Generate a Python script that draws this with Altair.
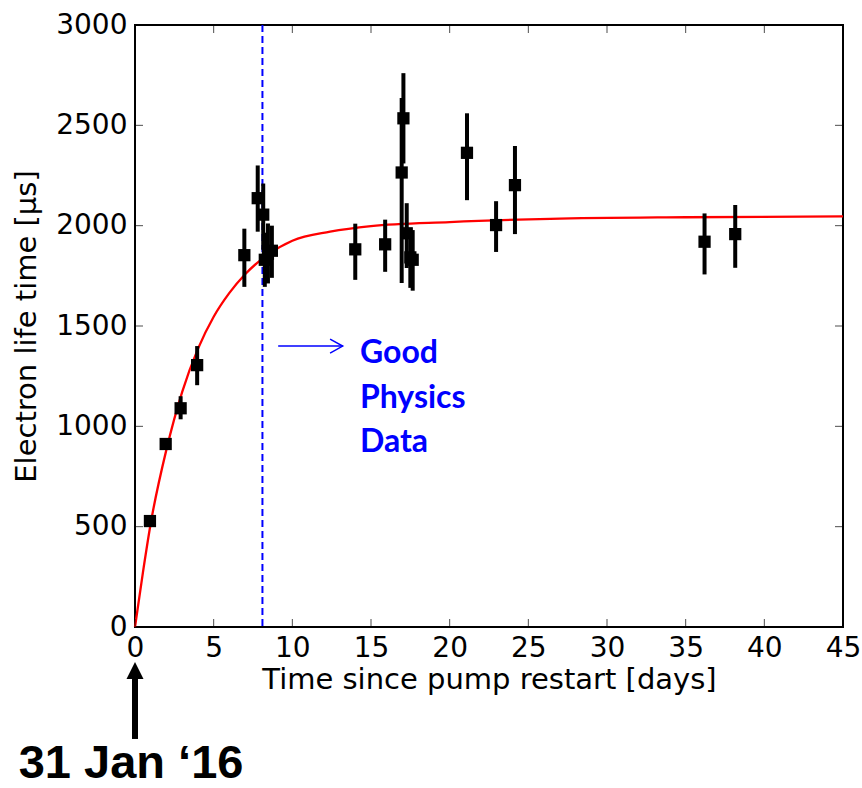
import altair as alt
import pandas as pd

# ---- data ----
days = [0.95, 1.95, 2.9, 3.95, 6.95, 7.8, 8.15, 8.25, 8.45, 8.7, 14.0, 15.9,
        16.95, 17.06, 17.27, 17.5, 17.65, 21.1, 22.95, 24.15, 36.2, 38.15]
lifetime = [528, 912, 1090, 1305, 1853, 2137, 2055, 1830, 1860, 1875, 1882, 1907,
            2265, 2535, 1962, 1842, 1830, 2363, 2003, 2202, 1920, 1958]
err_lo = [508, 885, 1035, 1205, 1695, 1970, 1880, 1695, 1712, 1740, 1730, 1770,
          1714, 2310, 1789, 1690, 1676, 2127, 1869, 1958, 1757, 1790]
err_hi = [548, 940, 1150, 1400, 1985, 2300, 2210, 1965, 2011, 2000, 2010, 2030,
          2636, 2760, 2112, 1988, 1978, 2560, 2122, 2397, 2061, 2103]

fit_days = [0, 0.5, 1, 2, 3, 4, 5, 6, 7, 8, 10, 12.4, 15, 20, 26.4, 35, 45]
fit_life = [0, 270, 517, 885, 1172, 1386, 1546, 1665, 1758, 1830, 1925, 1970,
            1998, 2018, 2034, 2042, 2046]

x_ticks = [0, 5, 10, 15, 20, 25, 30, 35, 40, 45]
y_ticks = [0, 500, 1000, 1500, 2000, 2500, 3000]

good_data_day = 8.1

pts = pd.DataFrame({"t": days, "y": lifetime, "lo": err_lo, "hi": err_hi})
fit = pd.DataFrame({"t": fit_days, "y": fit_life})
xt = pd.DataFrame({"t": x_ticks})
yt = pd.DataFrame({"y": y_ticks})

W, H = 708, 602
xs = alt.Scale(domain=[0, 45], nice=False, zero=False, clamp=False)
ys = alt.Scale(domain=[0, 3000], nice=False, zero=False, clamp=False)

X = alt.X("t:Q", scale=xs, title="Time since pump restart [days]",
          axis=alt.Axis(values=x_ticks, format="d", labelFlush=False))
Y = alt.Y("y:Q", scale=ys, title="Electron life time [μs]",
          axis=alt.Axis(values=y_ticks, format="d", labelFlush=False))

base_axes = alt.Chart(fit).mark_line(color="red", strokeWidth=2.3, interpolate="monotone").encode(x=X, y=Y)

err = alt.Chart(pts).mark_rule(color="black", strokeWidth=4).encode(
    x=alt.X("t:Q", scale=xs), y=alt.Y("lo:Q", scale=ys), y2="hi:Q")
sq = alt.Chart(pts).mark_square(color="black", filled=True, size=150, opacity=1).encode(
    x=alt.X("t:Q", scale=xs), y=alt.Y("y:Q", scale=ys))

vline = alt.Chart(pd.DataFrame({"t": [good_data_day]})).mark_rule(
    color="#0000ff", strokeWidth=2, strokeDash=[7, 4]).encode(x=alt.X("t:Q", scale=xs))

# inward ticks on all four sides
tick_b = alt.Chart(xt).mark_tick(color="black", size=8, thickness=1).encode(
    x=alt.X("t:Q", scale=xs), y=alt.value(H - 4))
tick_t = alt.Chart(xt).mark_tick(color="black", size=8, thickness=1).encode(
    x=alt.X("t:Q", scale=xs), y=alt.value(4))
tick_l = alt.Chart(yt).mark_tick(color="black", size=8, thickness=1).encode(
    y=alt.Y("y:Q", scale=ys), x=alt.value(4))
tick_r = alt.Chart(yt).mark_tick(color="black", size=8, thickness=1).encode(
    y=alt.Y("y:Q", scale=ys), x=alt.value(W - 4))

# blue annotation arrow + text
ann = pd.DataFrame({"t": [9.1], "t2": [13.2], "y": [1400]})
arrow_shaft = alt.Chart(ann).mark_rule(color="#0000ff", strokeWidth=1.5).encode(
    x=alt.X("t:Q", scale=xs), x2="t2:Q", y=alt.Y("y:Q", scale=ys))
arrow_head = alt.Chart(ann).mark_point(
    shape="M -1.8 -1 L 0 0 L -1.8 1", filled=False, color="#0000ff",
    strokeWidth=1.5, size=196, opacity=1).encode(
    x=alt.X("t2:Q", scale=xs), y=alt.Y("y:Q", scale=ys))
good_txt = alt.Chart(pd.DataFrame({"t": [14.3], "y": [1315]})).mark_text(
    text=["Good", "Physics", "Data"], align="left", baseline="alphabetic",
    font="Lato", fontWeight="bold", fontSize=32, lineHeight=44.5, color="#0000ff").encode(
    x=alt.X("t:Q", scale=xs), y=alt.Y("y:Q", scale=ys))

# date marker below the axis
date_df = pd.DataFrame({"t": [0.0], "lo": [-558], "hi": [-259], "head": [-217],
                        "tt": [-0.25], "ty": [-802]})
date_shaft = alt.Chart(date_df).mark_rule(color="black", strokeWidth=6, clip=False).encode(
    x=alt.X("t:Q", scale=xs), y=alt.Y("lo:Q", scale=ys), y2="hi:Q")
date_head = alt.Chart(date_df).mark_point(
    shape="M 0 -1 L 1 1 L -1 1 Z", filled=True, color="black", size=289, opacity=1,
    clip=False).encode(x=alt.X("t:Q", scale=xs), y=alt.Y("head:Q", scale=ys))
date_txt = alt.Chart(date_df).mark_text(
    text="31 Jan \u201816", align="center", baseline="bottom",
    font="Liberation Sans", fontWeight="bold", fontSize=47, color="black", clip=False).encode(
    x=alt.X("tt:Q", scale=xs), y=alt.Y("ty:Q", scale=ys))

chart = alt.layer(
    base_axes, vline, err, sq, tick_b, tick_t, tick_l, tick_r,
    arrow_shaft, arrow_head, good_txt, date_shaft, date_head, date_txt
).properties(
    width=W, height=H,
    autosize=alt.AutoSizeParams(type="none"),
    padding={"left": 135, "top": 25, "right": 19, "bottom": 161},
    background="white",
).configure_view(
    stroke="black", strokeWidth=2
).configure_axis(
    grid=False, ticks=False, domain=False,
    labelFont="DejaVu Sans", labelFontSize=28, labelColor="black",
    titleFont="DejaVu Sans", titleFontSize=29, titleFontWeight="normal", titleColor="black",
).configure_axisX(
    labelPadding=7, titlePadding=3
).configure_axisY(
    labelPadding=8, titlePadding=14
)

chart.save("out.html", embed_options={"renderer": "svg", "actions": False})
